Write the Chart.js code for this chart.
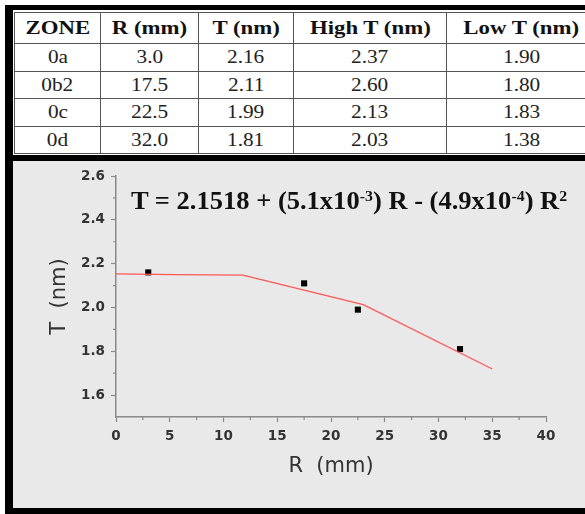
<!DOCTYPE html>
<html>
<head>
<meta charset="utf-8">
<script src="https://cdn.jsdelivr.net/npm/chart.js@4.4.1/dist/chart.umd.min.js"></script>
<style>
  body { margin: 0; background: #fff; width: 585px; height: 514px; overflow: hidden; position: relative; }
  #frame { position: absolute; left: 5px; top: 5px; width: 620px; height: 509px; background: #000; }
  #tablebox { position: absolute; left: 13px; top: 10px; width: 620px; height: 145px; background: #fff; }
  #data { position: absolute; left: 1px; top: 2px; border-collapse: collapse; table-layout: fixed; font-family: "Liberation Serif", "Times New Roman", serif; color: #222; }
  #data td, #data th { border: 1.5px solid #555; text-align: center; padding: 0; overflow: hidden; white-space: nowrap; font-family: "Liberation Serif", "Times New Roman", serif; }
  #data th { height: 30px; font-size: 19px; font-weight: bold; color: #111; }
  #data td { height: 26.5px; font-size: 19px; font-weight: normal; }
  #data th span { display: inline-block; transform: scaleX(1.2); }
  #data td span { display: inline-block; transform: scaleX(1.12); }
  #panel { position: absolute; left: 13px; top: 161px; width: 620px; height: 347px; background: #e9e9e9; }
  #chart { position: absolute; left: 13px; top: 161px; }
  #eq { position: absolute; left: 131px; top: 186px; font-family: "Liberation Serif", serif; font-weight: bold; font-size: 26px; line-height: 30px; color: #111; white-space: nowrap; transform: scaleX(1.02); transform-origin: left center; }
  #eq sup { font-size: 0.6em; vertical-align: 0.5em; line-height: 0; }
</style>
</head>
<body>
<div id="frame"></div>
<div id="tablebox"><table id="data"></table></div>
<div id="panel"></div>
<canvas id="chart" width="572" height="347"></canvas>
<div id="eq">T = 2.1518 + (5.1x10<sup>-3</sup>) R - (4.9x10<sup>-4</sup>) R<sup>2</sup></div>
<script>
// Zone measurements (table + scatter)
var headers = ['ZONE', 'R (mm)', 'T (nm)', 'High T (nm)', 'Low T (nm)'];
var zones = ['0a', '0b2', '0c', '0d'];
var rValues = [3.0, 17.5, 22.5, 32.0];
var tValues = [2.16, 2.11, 1.99, 1.81];
var highT = [2.37, 2.60, 2.13, 2.03];
var lowT = [1.90, 1.80, 1.83, 1.38];

// Fitted curve as drawn (red polyline)
var fitR = [0, 5.5, 11.8, 23.0, 35.0];
var fitT = [2.153, 2.150, 2.148, 2.013, 1.719];

// Axes
var xTicks = [0, 5, 10, 15, 20, 25, 30, 35, 40];
var xMinor = [2.5, 7.5, 12.5, 17.5, 22.5, 27.5, 32.5, 37.5];
var yTicks = [1.6, 1.8, 2.0, 2.2, 2.4, 2.6];
var yMinor = [1.7, 1.9, 2.1, 2.3, 2.5];

var colWidths = [86, 98, 95, 153, 150];

// build the table
var table = document.getElementById('data');
var cg = '<colgroup>';
colWidths.forEach(function (w) { cg += '<col style="width:' + w + 'px">'; });
cg += '</colgroup>';
var html = cg + '<tr>';
headers.forEach(function (h) { html += '<th><span>' + h + '</span></th>'; });
html += '</tr>';
for (var i = 0; i < zones.length; i++) {
  html += '<tr>' +
    '<td><span>' + zones[i] + '</span></td>' +
    '<td><span>' + rValues[i].toFixed(1) + '</span></td>' +
    '<td><span>' + tValues[i].toFixed(2) + '</span></td>' +
    '<td><span>' + highT[i].toFixed(2) + '</span></td>' +
    '<td><span>' + lowT[i].toFixed(2) + '</span></td></tr>';
}
table.innerHTML = html;

var axisColor = '#8a8a8a';
var labelColor = '#333';

// short minor ticks, outward
var minorTicks = {
  id: 'minorTicks',
  afterDraw: function (chart) {
    var ctx = chart.ctx, x = chart.scales.x, y = chart.scales.y;
    var area = chart.chartArea;
    ctx.save();
    ctx.strokeStyle = axisColor;
    ctx.lineWidth = 1.2;
    ctx.beginPath();
    xMinor.forEach(function (v) {
      var px = x.getPixelForValue(v);
      ctx.moveTo(px, area.bottom);
      ctx.lineTo(px, area.bottom + 3);
    });
    yMinor.forEach(function (v) {
      var py = y.getPixelForValue(v);
      ctx.moveTo(area.left, py);
      ctx.lineTo(area.left - 3, py);
    });
    ctx.stroke();
    ctx.restore();
  }
};

var scatterPts = rValues.map(function (r, i) { return { x: r, y: tValues[i] }; });
var fitPts = fitR.map(function (r, i) { return { x: r, y: fitT[i] }; });

new Chart(document.getElementById('chart').getContext('2d'), {
  type: 'scatter',
  data: {
    datasets: [
      { label: 'Fit', data: fitPts, showLine: true, borderColor: '#ff5656', borderWidth: 1.3, pointRadius: 0, fill: false, tension: 0 },
      { label: 'T', data: scatterPts, pointStyle: 'rect', pointRadius: 4.3, backgroundColor: '#000', borderColor: '#000', borderWidth: 0 }
    ]
  },
  options: {
    responsive: false,
    animation: false,
    layout: { padding: { left: 0, right: 39, top: 15, bottom: 1 } },
    plugins: { legend: { display: false }, tooltip: { enabled: false } },
    scales: {
      x: {
        type: 'linear', position: 'bottom', min: 0, max: 40,
        afterBuildTicks: function (s) { s.ticks = xTicks.map(function (v) { return { value: v }; }); },
        afterFit: function (s) { s.height = 90; },
        grid: { drawOnChartArea: false, drawTicks: true, tickLength: 5, color: axisColor, tickWidth: 1.2 },
        border: { color: axisColor, width: 1.5 },
        ticks: { color: labelColor, padding: 6, maxRotation: 0, font: { family: 'DejaVu Sans', size: 13.5, weight: 'bold' } },
        title: { display: true, text: 'R  (mm)', color: labelColor, font: { family: 'DejaVu Sans', size: 21 }, padding: { top: 0, bottom: 28 } }
      },
      y: {
        type: 'linear', position: 'left', min: 1.5, max: 2.6,
        afterBuildTicks: function (s) { s.ticks = yTicks.map(function (v) { return { value: v }; }); },
        afterFit: function (s) { s.width = 103; },
        grid: { drawOnChartArea: false, drawTicks: true, tickLength: 5, color: axisColor, tickWidth: 1.2 },
        border: { color: axisColor, width: 1.5 },
        ticks: { color: labelColor, padding: 6, font: { family: 'DejaVu Sans', size: 13.5, weight: 'bold' },
          callback: function (v) { return Number(v).toFixed(1); } },
        title: { display: true, text: 'T  (nm)', color: labelColor, font: { family: 'DejaVu Sans', size: 21 }, padding: { top: 34, bottom: 0 } }
      }
    }
  },
  plugins: [minorTicks]
});
</script>
</body>
</html>
